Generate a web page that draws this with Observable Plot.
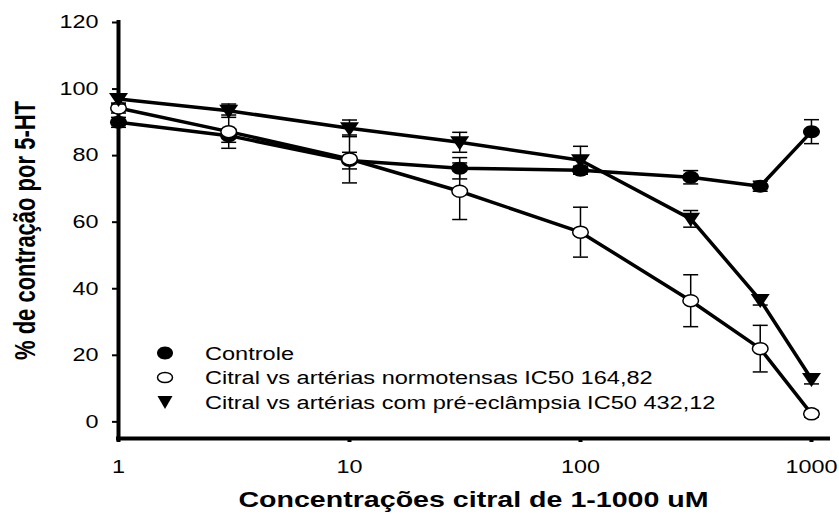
<!DOCTYPE html>
<html>
<head>
<meta charset="utf-8">
<script src="https://cdn.jsdelivr.net/npm/d3@7"></script>
<script src="https://cdn.jsdelivr.net/npm/@observablehq/plot@0.6"></script>
<style>
  html, body { margin: 0; padding: 0; background: white; }
  #wrap { position: relative; width: 839px; height: 516px; }
  #legend { position: absolute; left: 0; top: 0; pointer-events: none; }
</style>
</head>
<body>
<div id="wrap"></div>
<script>
// ---- data ----
const conc = [1, 3, 10, 30, 100, 300, 600, 1000];
const controle = [90, 86, 78.5, 76.2, 75.6, 73.5, 70.8, 87.2];
const controleErr = [1.5, 2, 2.5, 3.2, 1.2, 2, 1.5, 3.6];
const normo = [94.3, 87.2, 79, 69.3, 57, 36.4, 22, 2.4];
const normoErr = [1.5, 5, 7.2, 8.5, 7.5, 7.8, 7, 1];
const pre = [97, 93.5, 88.2, 84, 78.6, 61, 36.6, 12.9];
const preErr = [1.5, 2, 2.5, 3, 4.2, 2.5, 1.5, 1.5];
const seriesNames = ["Controle", "Citral vs artérias normotensas IC50 164,82", "Citral vs artérias com pré-eclâmpsia IC50 432,12"];
const xTicks = [1, 10, 100, 1000];
const yTicks = [0, 20, 40, 60, 80, 100, 120];
const xDomain = [1, 1185];
const yDomain = [-5, 120];
const xTitle = "Concentrações citral de 1-1000 uM";
const yTitle = "% de contração por 5-HT";

// ---- symbols ----
const K = 0.5523;
function ellipse(rx, ry) {
  return { draw(ctx) {
    ctx.moveTo(rx, 0);
    ctx.bezierCurveTo(rx, ry * K, rx * K, ry, 0, ry);
    ctx.bezierCurveTo(-rx * K, ry, -rx, ry * K, -rx, 0);
    ctx.bezierCurveTo(-rx, -ry * K, -rx * K, -ry, 0, -ry);
    ctx.bezierCurveTo(rx * K, -ry, rx, -ry * K, rx, 0);
    ctx.closePath();
  }};
}
function triDown(hw, top, bottom) {
  return { draw(ctx) {
    ctx.moveTo(-hw, -top); ctx.lineTo(hw, -top); ctx.lineTo(0, bottom); ctx.closePath();
  }};
}
const cap = { draw(ctx) { ctx.moveTo(-7.5, 0); ctx.lineTo(7.5, 0); } };

const seriesVals = [controle, normo, pre];
const seriesErrs = [controleErr, normoErr, preErr];
const styles = [
  { symbol: ellipse(8.5, 6.5), fill: "black", stroke: "none", strokeWidth: 0 },
  { symbol: ellipse(7.8, 6), fill: "white", stroke: "black", strokeWidth: 1.5 },
  { symbol: triDown(9.5, 6, 8), fill: "black", stroke: "none", strokeWidth: 0 }
];

const seriesMarks = seriesVals.flatMap((vals, s) => {
  const rows = conc.map((c, i) => ({ x: c, y: vals[i], e: seriesErrs[s][i] }));
  const st = styles[s];
  return [
    Plot.ruleX(rows, { x: "x", y1: d => d.y - d.e, y2: d => d.y + d.e, stroke: "black", strokeWidth: 1.5 }),
    Plot.dot(rows, { x: "x", y: d => d.y + d.e, symbol: cap, r: 5, fill: "none", stroke: "black", strokeWidth: 1.5 }),
    Plot.dot(rows, { x: "x", y: d => d.y - d.e, symbol: cap, r: 5, fill: "none", stroke: "black", strokeWidth: 1.5 }),
    Plot.line(rows, { x: "x", y: "y", stroke: "black", strokeWidth: 3.5 }),
    Plot.dot(rows, { x: "x", y: "y", symbol: st.symbol, r: 5, fill: st.fill, stroke: st.stroke, strokeWidth: st.strokeWidth })
  ];
});

const chart = Plot.plot({
  width: 839, height: 516,
  marginLeft: 118, marginRight: 11, marginTop: 22, marginBottom: 78,
  x: { type: "log", domain: xDomain },
  y: { domain: yDomain },
  style: { fontFamily: "'Liberation Sans', Arial, sans-serif", fontSize: "18px", color: "black", background: "white", overflow: "visible" },
  marks: [
    Plot.axisY({ ticks: yTicks, tickSize: 6, tickPadding: 14, strokeWidth: 2, fontSize: 18, label: null, tickFormat: d => String(d) }),
    Plot.axisX({ ticks: xTicks, tickSize: 4, tickPadding: 18, strokeWidth: 4, fontSize: 18, label: null, tickFormat: d => String(d) }),
    Plot.ruleX([xDomain[0]], { y1: yDomain[0], y2: yDomain[1], stroke: "black", strokeWidth: 4, strokeLinecap: "square" }),
    Plot.ruleY([yDomain[0]], { x1: xDomain[0], x2: xDomain[1], stroke: "black", strokeWidth: 4, strokeLinecap: "square" }),
    ...seriesMarks,
    Plot.text([yTitle], { frameAnchor: "left", dx: -93, rotate: -90, text: d => d, fontWeight: "bold", fontSize: 22, textAnchor: "middle", lineAnchor: "middle", fill: "black" }),
    Plot.text([xTitle], { frameAnchor: "bottom", dy: 61, text: d => d, fontWeight: "bold", fontSize: 22, textAnchor: "middle", lineAnchor: "middle", fill: "black" })
  ]
});

// stretch text horizontally like the original picture (keep em-based y offsets)
chart.querySelectorAll("text").forEach(t => {
  const tr = t.getAttribute("transform") || "";
  t.setAttribute("transform", tr + (tr.includes("rotate") ? " scale(1,1.3)" : " scale(1.3,1)"));
});

const wrap = document.getElementById("wrap");
wrap.appendChild(chart);

// ---- legend overlay ----
const leg = d3.select(wrap).append("svg").attr("id", "legend").attr("width", 839).attr("height", 516);
const legMarkers = [ellipse(8, 6.5), ellipse(7.5, 5), triDown(7.5, 6, 7)];
const legRowY = [353, 377.5, 402];
seriesNames.forEach((name, i) => {
  const g = leg.append("g").attr("transform", `translate(0,${legRowY[i]})`);
  const p = d3.path();
  legMarkers[i].draw(p);
  g.append("path").attr("d", p.toString()).attr("transform", "translate(165,0)")
    .attr("fill", styles[i].fill).attr("stroke", i === 1 ? "black" : "none").attr("stroke-width", 1.5);
  g.append("text").attr("transform", "translate(205,0) scale(1.24,1)").attr("dy", "0.36em")
    .attr("font-family", "'Liberation Sans', Arial, sans-serif").attr("font-size", 19).attr("fill", "black")
    .text(name);
});
</script>
</body>
</html>
